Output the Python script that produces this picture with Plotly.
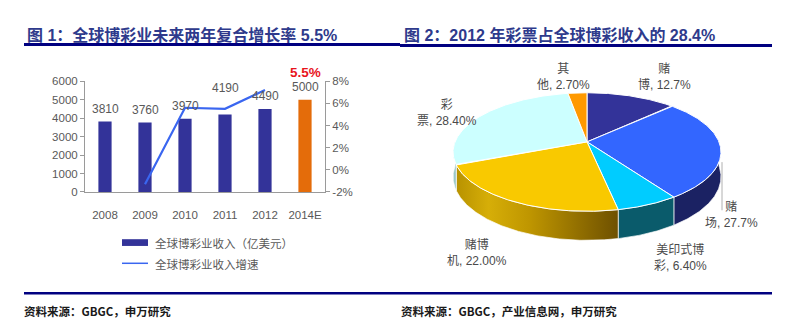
import numpy as np
import plotly.graph_objects as go

# ---------------- Data: Figure 1 ----------------
years = ["2008", "2009", "2010", "2011", "2012", "2014E"]
revenue = [3810, 3760, 3970, 4190, 4490, 5000]          # 全球博彩业收入（亿美元）
growth = [None, -1.3, 5.6, 5.5, 7.2, None]               # 增速 %
cagr_text = "5.5%"
bar_name = "全球博彩业收入（亿美元）"
line_name = "全球博彩业收入增速"
y_ticks = [0, 1000, 2000, 3000, 4000, 5000, 6000]
y2_ticks = [-2, 0, 2, 4, 6, 8]

# ---------------- Data: Figure 2 ----------------
segments = ["赌博", "赌场", "美印式博彩", "赌博机", "彩票", "其他"]
shares = [12.7, 27.7, 6.4, 22.0, 28.4, 2.7]
share_labels = ["赌<br>博, 12.7%", "赌<br>场, 27.7%", "美印式博<br>彩, 6.40%",
                "赌博<br>机, 22.00%", "彩<br>票, 28.40%", "其<br>他, 2.70%"]

title1 = "图 1：全球博彩业未来两年复合增长率 5.5%"
title2 = "图 2：2012 年彩票占全球博彩收入的 28.4%"
source1 = "资料来源：GBGC，申万研究"
source2 = "资料来源：GBGC，产业信息网，申万研究"

# ---------------- Styles ----------------
W, H = 800, 330
FONT = "Liberation Sans, Arial, Noto Sans CJK SC"
CJK = "Noto Sans CJK SC, Liberation Sans"
GREY = "#595959"
NAVY_BAR = "#333399"
ORANGE_BAR = "#e46c0a"
LINE_BLUE = "#3a66f0"
AXIS = "#9a9a9a"
TITLE_C = "#2e3a8c"
RULE_C = "#000080"

top_colors = ["#333399", "#3366ff", "#00ccff", "#f9c900", "#ccffff", "#ff9900"]
side_colors = ["#1a1a5c", "#1b2263", "#0a5b6b", None, "#9cc8c8", "#b36b00"]
gold_side_scale = [[0, "#b89200"], [0.2, "#d6ae08"], [0.45, "#bf9600"], [1, "#6e5000"]]

label_pos = [(664, 74), (731, 217), (680, 261), (477, 256), (447, 111), (563, 74)]
label_yshift = [13, 13, 13, 27, 13, 13]


def px(x):
    return x / W


def py(y):
    return 1 - y / H


fig = go.Figure()

# ---------- Figure 1: bars + growth line ----------
xi = list(range(len(years)))
bar_colors = [ORANGE_BAR if y.endswith("E") else NAVY_BAR for y in years]
fig.add_trace(go.Bar(x=xi, y=revenue, marker=dict(color=bar_colors, line=dict(width=0)),
                     width=0.33, name=bar_name, showlegend=False,
                     xaxis="x", yaxis="y", hoverinfo="skip"))
fig.add_trace(go.Scatter(x=xi, y=growth, mode="lines", name=line_name,
                         line=dict(color=LINE_BLUE, width=2.2), showlegend=False,
                         xaxis="x", yaxis="y2", connectgaps=False, hoverinfo="skip"))

annotations = []
for i, v, s in zip(xi, revenue, label_yshift):
    annotations.append(dict(x=i, y=v, xref="x", yref="y", text=str(v), showarrow=False,
                            yshift=s, yanchor="middle",
                            font=dict(family=FONT, size=12, color=GREY)))
annotations.append(dict(x=xi[-1], y=revenue[-1], xref="x", yref="y", text=cagr_text,
                        showarrow=False, yshift=27, yanchor="middle",
                        font=dict(family=FONT, size=13.5, color="#e8141c", weight="bold")))

# ---------- Figure 2: perspective 3D-look pie built from the shares ----------
cx, cy, rx, ry, k, depth = 587, 141, 132, 59.7, 0.171, 25
total = float(sum(shares))
bounds = np.concatenate([[0.0], np.cumsum(shares)]) / total * 360.0


def rim(t0, t1):
    n = max(int((t1 - t0) * 2) + 2, 4)
    t = np.radians(np.linspace(t0, t1, n))
    s = 1.0 / (1.0 + k * np.cos(t))
    return cx + rx * np.sin(t) * s, cy - ry * np.cos(t) * s, s


# side walls (front half only)
for i in range(len(shares)):
    lo, hi = max(bounds[i], 90.0), min(bounds[i + 1], 270.0)
    if hi <= lo:
        continue
    xt, yt, s = rim(lo, hi)
    xs = np.concatenate([xt, xt[::-1], xt[:1]])
    ys = np.concatenate([yt, (yt + depth * s)[::-1], yt[:1]])
    kw = dict(fillcolor=side_colors[i])
    if side_colors[i] is None:
        kw = dict(fillgradient=dict(type="horizontal", colorscale=gold_side_scale))
    fig.add_trace(go.Scatter(x=xs, y=ys, mode="lines", fill="toself",
                             line=dict(color="rgba(255,255,255,0.85)", width=0.8),
                             xaxis="x3", yaxis="y3", showlegend=False, hoverinfo="skip", **kw))

# top faces
for i in range(len(shares)):
    xt, yt, _ = rim(bounds[i], bounds[i + 1])
    xs = np.concatenate([[cx], xt, [cx]])
    ys = np.concatenate([[cy], yt, [cy]])
    fig.add_trace(go.Scatter(x=xs, y=ys, mode="lines", fill="toself", fillcolor=top_colors[i],
                             line=dict(color="white", width=1), name=segments[i],
                             xaxis="x3", yaxis="y3", showlegend=False, hoverinfo="skip"))

for (lx, ly), txt in zip(label_pos, share_labels):
    annotations.append(dict(x=lx, y=ly, xref="x3", yref="y3", text=txt, showarrow=False,
                            align="center", xanchor="center", yanchor="middle",
                            font=dict(family=FONT, size=12, color="#4a4a4a")))

# ---------- titles, rules, sources, legend ----------
for txt, x0 in [(title1, 25), (title2, 402)]:
    annotations.append(dict(x=px(x0), y=py(30), xref="paper", yref="paper", text=txt,
                            showarrow=False, xanchor="left", yanchor="middle",
                            font=dict(family=FONT, size=16, color=TITLE_C, weight="bold")))
for txt, x0 in [(source1, 22), (source2, 399)]:
    annotations.append(dict(x=px(x0), y=py(316), xref="paper", yref="paper", text=txt,
                            showarrow=False, xanchor="left", yanchor="middle",
                            font=dict(family=CJK, size=11.5, color="#1a1a1a", weight="bold")))
for txt, yy in [(bar_name, 246), (line_name, 268)]:
    annotations.append(dict(x=px(153), y=py(yy), xref="paper", yref="paper", text=txt,
                            showarrow=False, xanchor="left", yanchor="middle",
                            font=dict(family=FONT, size=11.5, color=GREY)))

shapes = [
    dict(type="line", xref="paper", yref="paper", x0=px(24), x1=px(400), y0=py(40), y1=py(40),
         line=dict(color=RULE_C, width=3)),
    dict(type="line", xref="paper", yref="paper", x0=px(400), x1=px(772), y0=py(41), y1=py(41),
         line=dict(color=RULE_C, width=3)),
    dict(type="line", xref="paper", yref="paper", x0=px(24), x1=px(400), y0=py(298), y1=py(298),
         line=dict(color=RULE_C, width=2.5)),
    dict(type="line", xref="paper", yref="paper", x0=px(400), x1=px(772), y0=py(298), y1=py(298),
         line=dict(color=RULE_C, width=2.5)),
    # legend keys
    dict(type="rect", xref="paper", yref="paper", x0=px(122), x1=px(148), y0=py(249), y1=py(242),
         fillcolor=NAVY_BAR, line=dict(width=0)),
    dict(type="line", xref="paper", yref="paper", x0=px(122), x1=px(148), y0=py(267), y1=py(267),
         line=dict(color=LINE_BLUE, width=1.5)),
    # leader line for 赌场 label
    dict(type="line", xref="x3", yref="y3", x0=722, x1=722, y0=162, y1=212,
         line=dict(color="#b0b0b0", width=1)),
]

fig.update_layout(
    width=W, height=H, margin=dict(l=0, r=0, t=0, b=0),
    paper_bgcolor="white", plot_bgcolor="rgba(0,0,0,0)",
    showlegend=False, bargap=0.67,
    font=dict(family=FONT, color=GREY),
    xaxis=dict(domain=[px(85), px(325)], anchor="y", type="linear", range=[-0.5, len(years) - 0.5],
               tickvals=xi, ticktext=years, showline=True,
               linecolor=AXIS, linewidth=1, ticks="", showgrid=False, zeroline=False,
               fixedrange=True, ticklabelstandoff=12,
               tickfont=dict(family=FONT, size=11.5, color=GREY)),
    yaxis=dict(domain=[py(193), py(78)], anchor="x", range=[0, 6000], tickvals=y_ticks,
               showline=True, linecolor=AXIS, ticks="outside", ticklen=4, tickcolor=AXIS,
               showgrid=False, zeroline=False, fixedrange=True,
               tickfont=dict(family=FONT, size=11.5, color=GREY)),
    yaxis2=dict(overlaying="y", side="right", anchor="x", range=[-2, 8], tickvals=y2_ticks,
                ticktext=[f"{v}%" for v in y2_ticks], showline=True, linecolor=AXIS,
                ticks="outside", ticklen=4, tickcolor=AXIS, showgrid=False, zeroline=False,
                fixedrange=True, tickfont=dict(family=FONT, size=11.5, color=GREY)),
    xaxis3=dict(domain=[0.5, 1], anchor="y3", range=[400, 800], visible=False, fixedrange=True),
    yaxis3=dict(domain=[0, 1], anchor="x3", range=[330, 0], visible=False, fixedrange=True),
    annotations=annotations, shapes=shapes,
)

fig.write_html("out.html")
